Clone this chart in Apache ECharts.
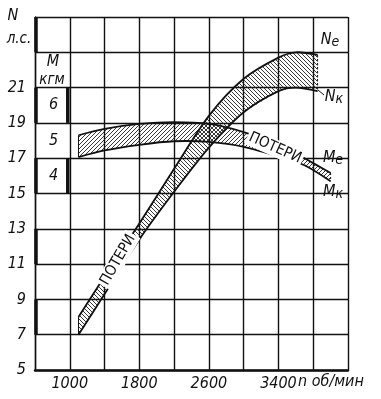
<!DOCTYPE html>
<html><head><meta charset="utf-8">
<script src="https://cdn.jsdelivr.net/npm/echarts@6/dist/echarts.min.js"></script>
<style>html,body{margin:0;padding:0;background:#fff}#c{width:381px;height:399px}</style>
</head><body><div id="c"></div>
<script>
// ---- data (rpm, N in л.с., M in кгм) ----
const rpmN = [1100, 1400, 1800, 2200, 2600, 3000, 3400, 3600, 3850];
const Ne   = [8.0, 10.3, 13.3, 16.4, 19.4, 21.5, 22.7, 23.0, 22.85];
const Nk   = [7.0,  9.3, 12.4, 15.1, 17.6, 19.6, 20.8, 21.0, 20.8];

const rpmM = [1100, 1400, 1800, 2200, 2600, 3000, 3500, 3700, 4000];
const Me   = [5.15, 5.33, 5.47, 5.52, 5.47, 5.24, 4.78, 4.50, 4.08];
const Mk   = [4.53, 4.72, 4.88, 4.98, 4.96, 4.82, 4.47, 4.30, 3.85];

const xTickLabels = [1000, 1800, 2600, 3400];
const nTickLabels = [5, 7, 9, 11, 13, 15, 17, 19, 21];
const mTickLabels = [4, 5, 6];
const leftRuler = [[23, 25], [19, 21], [15, 17], [11, 13], [7, 9]];   // N units
const mRuler = [[5.5, 6.5], [3.5, 4.5]];                              // M units

const F = '"Liberation Sans Narrow","DejaVu Sans Condensed","Liberation Sans",sans-serif';
const INK = '#111';

function hatch(dir, step, color, lw) {
  const c = document.createElement('canvas'); c.width = step; c.height = step;
  const x = c.getContext('2d'); x.strokeStyle = color; x.lineWidth = lw;
  x.beginPath();
  for (let k = -1; k <= 1; k++) {
    if (dir > 0) { x.moveTo(k * step, step); x.lineTo(k * step + step, 0); }
    else { x.moveTo(k * step, 0); x.lineTo(k * step + step, step); }
  }
  x.stroke(); return c;
}
const patN = hatch(-1, 4, '#222', 0.9);
const patM = hatch(1, 4, '#222', 0.9);

function bandRender(xs, up, lo, pat) {
  return function (params, api) {
    if (params.dataIndex !== 0) return null;
    const U = xs.map((x, i) => api.coord([x, up[i]]));
    const L = xs.map((x, i) => api.coord([x, lo[i]]));
    const n = xs.length - 1;
    return { type: 'group', children: [
      { type: 'polygon', shape: { points: U.concat(L.slice().reverse()) },
        style: { fill: { image: pat, repeat: 'repeat' }, stroke: null } },
      { type: 'polyline', shape: { points: U, smooth: 0.3 }, style: { stroke: INK, lineWidth: 1.8, fill: null } },
      { type: 'polyline', shape: { points: L, smooth: 0.3 }, style: { stroke: INK, lineWidth: 1.8, fill: null } },
      { type: 'line', shape: { x1: U[0][0], y1: U[0][1], x2: L[0][0], y2: L[0][1] }, style: { stroke: INK, lineWidth: 1 } },
      { type: 'line', shape: { x1: U[n][0], y1: U[n][1], x2: L[n][0], y2: L[n][1] }, style: { stroke: INK, lineWidth: 1, lineDash: [2, 2] } }
    ]};
  };
}
function rulerRender(xv, dx) {
  return function (params, api) {
    const a = api.coord([xv, api.value(0)]);
    const b = api.coord([xv, api.value(1)]);
    return { type: 'line', shape: { x1: a[0] + dx, y1: a[1], x2: b[0] + dx, y2: b[1] },
      style: { stroke: INK, lineWidth: 3.5 } };
  };
}

const chart = echarts.init(document.getElementById('c'), null, { renderer: 'canvas' });
const lblStyle = { fontFamily: F, fontStyle: 'italic', fontSize: 16, color: INK };

chart.setOption({
  backgroundColor: '#fff',
  animation: false,
  grid: { left: 35, right: 33, top: 17, bottom: 29, containLabel: false, outerBoundsMode: 'none' },
  xAxis: {
    type: 'value', min: 600, max: 4200, interval: 400,
    axisLine: { show: true, onZero: false, lineStyle: { color: INK, width: 2.5 } },
    axisTick: { show: false },
    splitLine: { show: true, lineStyle: { color: INK, width: 1.4 } },
    axisLabel: Object.assign({ margin: 6, formatter: v => xTickLabels.includes(v) ? String(v) : '' }, lblStyle)
  },
  yAxis: [{
    type: 'value', min: 5, max: 25, interval: 2,
    axisLine: { show: true, onZero: false, lineStyle: { color: INK, width: 1.4 } },
    axisTick: { show: false },
    splitLine: { show: true, lineStyle: { color: INK, width: 1.4 } },
    axisLabel: Object.assign({ margin: 9, formatter: v => nTickLabels.includes(v) ? String(v) : '' }, lblStyle)
  }, {
    type: 'value', min: -1.5, max: 8.5, interval: 0.5, position: 'left',
    axisLine: { show: false, onZero: false }, axisTick: { show: false }, splitLine: { show: false },
    axisLabel: Object.assign({ inside: true, margin: 14, formatter: v => mTickLabels.includes(v) ? String(v) : '' }, lblStyle)
  }],
  series: [
    { type: 'custom', name: 'N', renderItem: bandRender(rpmN, Ne, Nk, patN),
      data: rpmN.map((x, i) => [x, Ne[i], Nk[i]]), encode: { x: 0, y: [1, 2] }, z: 3 },
    { type: 'custom', name: 'M', yAxisIndex: 1, renderItem: bandRender(rpmM, Me, Mk, patM),
      data: rpmM.map((x, i) => [x, Me[i], Mk[i]]), encode: { x: 0, y: [1, 2] }, z: 3 },
    { type: 'custom', renderItem: rulerRender(600, 1), data: leftRuler, encode: { y: [0, 1] }, z: 4 },
    { type: 'custom', yAxisIndex: 1, renderItem: rulerRender(1000, -2), data: mRuler, encode: { y: [0, 1] }, z: 4 }
  ],
  graphic: [
    { type: 'text', x: 13, y: 16, z: 10, style: { text: 'N', font: 'italic 16px ' + F, fill: INK, align: 'center', verticalAlign: 'middle' } },
    { type: 'text', x: 19, y: 39, z: 10, style: { text: 'л.с.', font: 'italic 15px ' + F, fill: INK, align: 'center', verticalAlign: 'middle' } },
    { type: 'text', x: 53, y: 62, z: 10, style: { text: 'M', font: 'italic 16px ' + F, fill: INK, align: 'center', verticalAlign: 'middle' } },
    { type: 'text', x: 52, y: 80, z: 10, style: { text: 'кгм', font: 'italic 15px ' + F, fill: INK, align: 'center', verticalAlign: 'middle' } },
    { type: 'text', x: 298, y: 382, z: 10, style: { text: 'n об/мин', font: 'italic 16px ' + F, fill: INK, align: 'left', verticalAlign: 'middle' } },
    { type: 'line', z: 10, shape: { x1: 318, y1: 90, x2: 324, y2: 95 }, style: { stroke: INK, lineWidth: 1 } },
    { type: 'text', x: 330, y: 40, z: 10, style: { text: '{a|N}{b|e}', fill: INK, align: 'center', verticalAlign: 'middle',
      rich: { a: { font: 'italic 16px ' + F }, b: { font: 'italic 14px ' + F, padding: [4, 0, 0, 0] } } } },
    { type: 'text', x: 334, y: 97, z: 10, style: { text: '{a|N}{b|к}', fill: INK, align: 'center', verticalAlign: 'middle',
      rich: { a: { font: 'italic 16px ' + F }, b: { font: 'italic 14px ' + F, padding: [4, 0, 0, 0] } } } },
    { type: 'text', x: 333, y: 158, z: 10, style: { text: '{a|M}{b|e}', fill: INK, align: 'center', verticalAlign: 'middle',
      rich: { a: { font: 'italic 16px ' + F }, b: { font: 'italic 14px ' + F, padding: [4, 0, 0, 0] } } } },
    { type: 'text', x: 333, y: 192, z: 10, style: { text: '{a|M}{b|к}', fill: INK, align: 'center', verticalAlign: 'middle',
      rich: { a: { font: 'italic 16px ' + F }, b: { font: 'italic 14px ' + F, padding: [4, 0, 0, 0] } } } },
    { type: 'text', x: 275, y: 148, rotation: -24 * Math.PI / 180, z: 10,
      style: { text: 'ПОТЕРИ', font: '15px ' + F, fill: INK, align: 'center', verticalAlign: 'middle', backgroundColor: '#fff', padding: [1, 2] } },
    { type: 'text', x: 118, y: 260, rotation: 60 * Math.PI / 180, z: 10,
      style: { text: 'ПОТЕРИ', font: '15px ' + F, fill: INK, align: 'center', verticalAlign: 'middle', backgroundColor: '#fff', padding: [1, 2] } }
  ]
});
</script></body></html>
